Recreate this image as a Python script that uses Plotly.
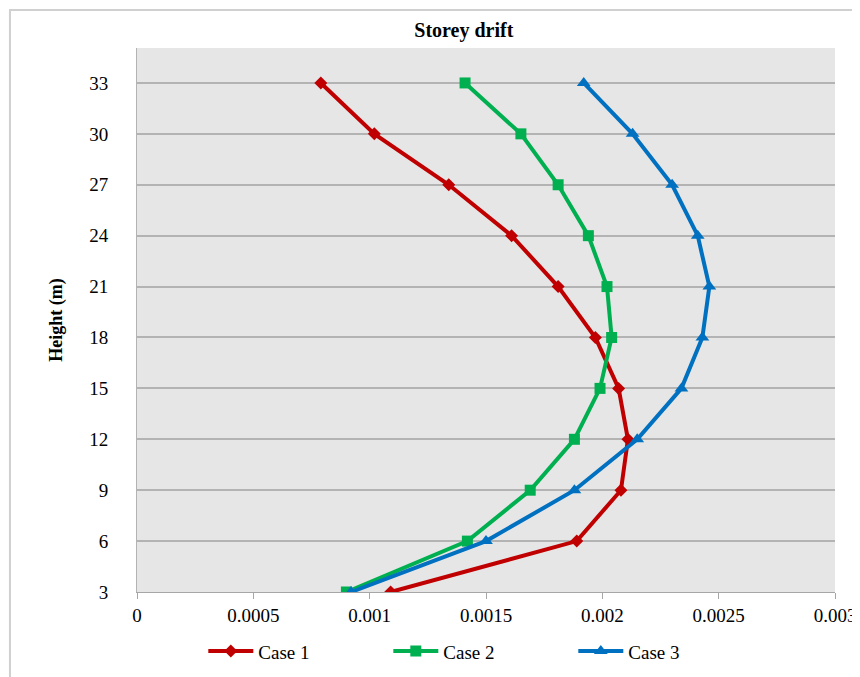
import plotly.graph_objects as go

# Storey heights (m)
heights = [3, 6, 9, 12, 15, 18, 21, 24, 27, 30, 33]

# Storey drift per case
case1 = [0.00109, 0.00189, 0.00208, 0.00211, 0.00207, 0.00197, 0.00181, 0.00161, 0.00134, 0.00102, 0.00079]
case2 = [0.00090, 0.00142, 0.00169, 0.00188, 0.00199, 0.00204, 0.00202, 0.00194, 0.00181, 0.00165, 0.00141]
case3 = [0.00092, 0.00150, 0.00188, 0.00215, 0.00234, 0.00243, 0.00246, 0.00241, 0.00230, 0.00213, 0.00192]

x_ticks = [0, 0.0005, 0.001, 0.0015, 0.002, 0.0025, 0.003]
x_ticktext = ['0', '0.0005', '0.001', '0.0015', '0.002', '0.0025', '0.003']
y_ticks = [3, 6, 9, 12, 15, 18, 21, 24, 27, 30, 33]

FONT = 'Liberation Serif, Times New Roman, serif'
COLORS = {'case1': '#C00000', 'case2': '#00B050', 'case3': '#0070C0'}

fig = go.Figure()

fig.add_trace(go.Scatter(
    x=case1, y=heights, name='Case 1', mode='lines+markers',
    line=dict(color=COLORS['case1'], width=4),
    marker=dict(symbol='diamond', size=10, color=COLORS['case1'])
))
fig.add_trace(go.Scatter(
    x=case2, y=heights, name='Case 2', mode='lines+markers',
    line=dict(color=COLORS['case2'], width=4),
    marker=dict(symbol='square', size=11, color=COLORS['case2'])
))
fig.add_trace(go.Scatter(
    x=case3, y=heights, name='Case 3', mode='lines+markers',
    line=dict(color=COLORS['case3'], width=4),
    marker=dict(symbol='triangle-up', size=12, color=COLORS['case3'])
))

# outer chart border (only left and top edges fall inside the picture)
fig.add_shape(type='rect', xref='paper', yref='paper',
              x0=-0.182, x1=1.3, y0=-0.4, y1=1.07,
              line=dict(color='#d0d0d0', width=2), layer='below')

# page body adds an 8px offset, so the figure is 8px smaller than the window
fig.update_layout(
    width=852, height=669,
    title=dict(text='<b>Storey drift</b>', x=0.535, xanchor='center', y=0.967, yanchor='middle',
               font=dict(family=FONT, size=20, color='black')),
    plot_bgcolor='#E6E6E6',
    paper_bgcolor='white',
    font=dict(family=FONT, size=19, color='black'),
    margin=dict(t=40, b=85, l=129, r=25, autoexpand=False),
    showlegend=True,
    legend=dict(orientation='h', x=0.095, xanchor='left', y=-0.074, yanchor='top',
                font=dict(family=FONT, size=19), entrywidth=125, entrywidthmode='pixels',
                itemwidth=45),
    xaxis=dict(range=[0, 0.003], tickvals=x_ticks, ticktext=x_ticktext,
               showgrid=False, zeroline=False, showline=True, linecolor='#a6a6a6', linewidth=1,
               ticks='outside', ticklen=6, tickcolor='#a6a6a6'),
    yaxis=dict(range=[3, 35.06], tickvals=y_ticks,
               title=dict(text='<b>Height (m)</b>', font=dict(family=FONT, size=18), standoff=21),
               showgrid=True, gridcolor='#b3b3b3', gridwidth=1.5, zeroline=False,
               showline=True, linecolor='#b3b3b3', linewidth=1,
               ticks='', ticklabelstandoff=24)
)

fig.write_html('out.html')
